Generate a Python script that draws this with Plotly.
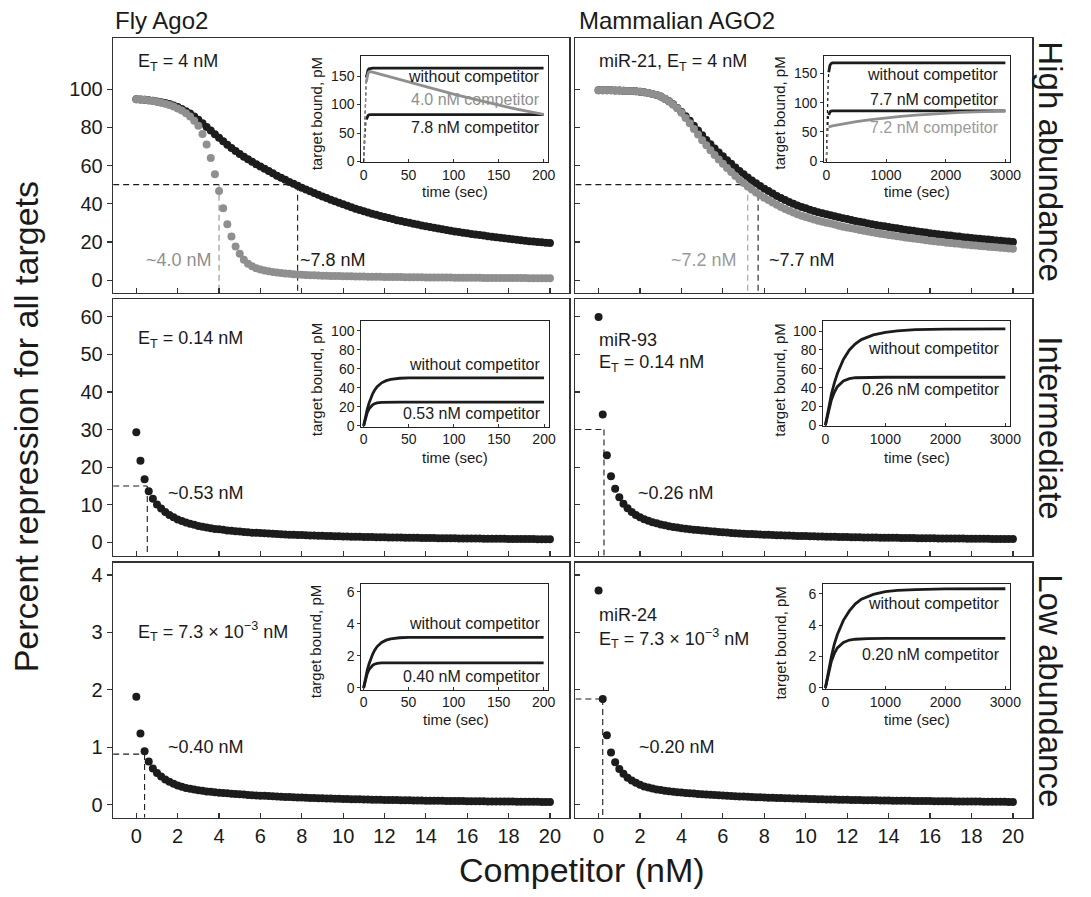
import plotly.graph_objects as go

W, H = 1091, 897
FONT = "Liberation Sans, Arial, Helvetica, sans-serif"
BLACK = "#1c1c1c"
GRAY = "#8f8f8f"
AXC = "#333333"

# ---------------- data: main panels (percent repression vs competitor) ----------------
competitor_nM = [
    0.0, 0.2, 0.4, 0.6, 0.8, 1.0, 1.2, 1.4, 1.6, 1.8,
    2.0, 2.2, 2.4, 2.6, 2.8, 3.0, 3.2, 3.4, 3.6, 3.8,
    4.0, 4.2, 4.4, 4.6, 4.8, 5.0, 5.2, 5.4, 5.6, 5.8,
    6.0, 6.2, 6.4, 6.6, 6.8, 7.0, 7.2, 7.4, 7.6, 7.8,
    8.0, 8.2, 8.4, 8.6, 8.8, 9.0, 9.2, 9.4, 9.6, 9.8,
    10.0, 10.2, 10.4, 10.6, 10.8, 11.0, 11.2, 11.4, 11.6, 11.8,
    12.0, 12.2, 12.4, 12.6, 12.8, 13.0, 13.2, 13.4, 13.6, 13.8,
    14.0, 14.2, 14.4, 14.6, 14.8, 15.0, 15.2, 15.4, 15.6, 15.8,
    16.0, 16.2, 16.4, 16.6, 16.8, 17.0, 17.2, 17.4, 17.6, 17.8,
    18.0, 18.2, 18.4, 18.6, 18.8, 19.0, 19.2, 19.4, 19.6, 19.8,
    20.0]

fly_high_black = [
    94.7, 94.6, 94.4, 94.2, 93.9, 93.6, 93.1, 92.7, 92.2, 91.4,
    90.6, 89.6, 88.5, 87.2, 85.7, 84.0, 82.1, 80.2, 78.3, 76.4,
    74.5, 72.7, 70.9, 69.2, 67.6, 66.0, 64.6, 63.3, 62.0, 60.7,
    59.5, 58.3, 57.1, 55.9, 54.7, 53.6, 52.5, 51.4, 50.4, 49.4,
    48.4, 47.5, 46.5, 45.6, 44.7, 43.8, 43.0, 42.1, 41.3, 40.5,
    39.7, 38.9, 38.2, 37.4, 36.7, 36.0, 35.4, 34.8, 34.2, 33.6,
    33.0, 32.5, 32.0, 31.4, 30.9, 30.4, 30.0, 29.5, 29.1, 28.6,
    28.2, 27.8, 27.4, 27.0, 26.6, 26.2, 25.9, 25.5, 25.2, 24.8,
    24.5, 24.2, 23.9, 23.6, 23.3, 23.0, 22.7, 22.4, 22.2, 21.9,
    21.6, 21.4, 21.1, 20.9, 20.6, 20.4, 20.2, 20.0, 19.8, 19.6,
    19.4]

fly_high_gray = [
    94.7, 94.6, 94.4, 94.1, 93.8, 93.4, 92.9, 92.4, 91.7, 90.9,
    89.9, 88.8, 87.4, 85.7, 83.5, 80.8, 76.5, 71.0, 64.0, 55.4,
    46.7, 37.6, 29.2, 22.8, 17.6, 13.8, 10.7, 8.6, 7.2, 6.2,
    5.5, 5.0, 4.6, 4.3, 4.0, 3.7, 3.5, 3.3, 3.1, 2.9,
    2.8, 2.7, 2.6, 2.5, 2.4, 2.3, 2.25, 2.2, 2.15, 2.1,
    2.05, 2.0, 1.96, 1.92, 1.88, 1.84, 1.8, 1.77, 1.74, 1.71,
    1.68, 1.65, 1.62, 1.59, 1.56, 1.53, 1.5, 1.48, 1.46, 1.44,
    1.42, 1.4, 1.38, 1.36, 1.34, 1.32, 1.3, 1.28, 1.26, 1.24,
    1.22, 1.2, 1.19, 1.18, 1.16, 1.15, 1.14, 1.12, 1.11, 1.1,
    1.08, 1.07, 1.06, 1.05, 1.04, 1.03, 1.02, 1.01, 1.0, 0.99,
    0.98]

mam_high_black = [
    99.4, 99.4, 99.4, 99.4, 99.3, 99.3, 99.2, 99.1, 99.0, 98.9,
    98.7, 98.4, 98.0, 97.5, 96.9, 96.1, 95.0, 93.7, 92.1, 90.2,
    88.1, 85.8, 83.4, 80.9, 78.4, 75.8, 73.4, 71.1, 68.9, 66.8,
    64.8, 62.8, 60.9, 59.0, 57.2, 55.5, 53.8, 52.2, 50.7, 49.3,
    47.9, 46.6, 45.3, 44.1, 43.0, 41.9, 40.9, 40.0, 39.1, 38.3,
    37.6, 36.9, 36.2, 35.6, 35.0, 34.5, 34.0, 33.5, 32.9, 32.4,
    32.0, 31.5, 31.0, 30.6, 30.2, 29.7, 29.3, 28.9, 28.5, 28.2,
    27.8, 27.4, 27.1, 26.8, 26.4, 26.1, 25.8, 25.5, 25.2, 24.9,
    24.6, 24.3, 24.0, 23.8, 23.5, 23.3, 23.0, 22.8, 22.5, 22.3,
    22.1, 21.8, 21.6, 21.4, 21.2, 21.0, 20.8, 20.6, 20.4, 20.2,
    20.0]

mam_high_gray = [
    99.4, 99.4, 99.4, 99.4, 99.3, 99.3, 99.2, 99.1, 99.0, 98.9,
    98.7, 98.4, 98.0, 97.5, 96.9, 96.1, 95.0, 93.6, 91.9, 90.0,
    87.6, 84.9, 82.1, 79.2, 76.3, 73.3, 70.6, 68.0, 65.5, 63.1,
    60.9, 58.7, 56.6, 54.5, 52.6, 50.8, 49.0, 47.4, 45.9, 44.5,
    43.1, 41.9, 40.6, 39.4, 38.3, 37.2, 36.3, 35.4, 34.5, 33.7,
    33.0, 32.4, 31.7, 31.1, 30.5, 30.0, 29.6, 29.1, 28.5, 28.0,
    27.6, 27.2, 26.7, 26.3, 25.9, 25.4, 25.1, 24.7, 24.3, 24.0,
    23.6, 23.3, 23.0, 22.7, 22.3, 22.0, 21.8, 21.5, 21.2, 20.9,
    20.6, 20.4, 20.1, 19.9, 19.6, 19.4, 19.2, 19.0, 18.7, 18.5,
    18.3, 18.1, 17.9, 17.7, 17.5, 17.3, 17.2, 17.0, 16.8, 16.6,
    16.4]

fly_mid = [
    29.3, 21.7, 16.8, 13.6, 11.6, 10.1, 9.0, 8.1, 7.3, 6.7,
    6.1, 5.7, 5.3, 5.0, 4.7, 4.4, 4.2, 4.0, 3.8, 3.6,
    3.5, 3.35, 3.2, 3.1, 3.0, 2.9, 2.8, 2.7, 2.6, 2.55,
    2.5, 2.42, 2.35, 2.3, 2.24, 2.18, 2.13, 2.08, 2.03, 1.99,
    1.95, 1.91, 1.87, 1.83, 1.79, 1.76, 1.72, 1.69, 1.66, 1.63,
    1.6, 1.57, 1.55, 1.52, 1.5, 1.47, 1.45, 1.43, 1.41, 1.39,
    1.37, 1.35, 1.33, 1.31, 1.29, 1.27, 1.26, 1.24, 1.22, 1.21,
    1.19, 1.18, 1.16, 1.15, 1.13, 1.12, 1.11, 1.09, 1.08, 1.07,
    1.06, 1.04, 1.03, 1.02, 1.01, 1.0, 0.99, 0.98, 0.97, 0.96,
    0.95, 0.94, 0.93, 0.92, 0.91, 0.9, 0.89, 0.88, 0.87, 0.87,
    0.86]

mam_mid = [
    59.9, 34.0, 23.2, 17.6, 14.3, 12.0, 10.3, 9.1, 8.1, 7.3,
    6.7, 6.2, 5.8, 5.4, 5.1, 4.8, 4.55, 4.3, 4.1, 3.95,
    3.8, 3.65, 3.5, 3.4, 3.3, 3.2, 3.1, 3.0, 2.9, 2.8,
    2.7, 2.62, 2.54, 2.47, 2.4, 2.34, 2.28, 2.22, 2.17, 2.12,
    2.07, 2.02, 1.98, 1.94, 1.9, 1.86, 1.82, 1.79, 1.75, 1.72,
    1.69, 1.66, 1.63, 1.6, 1.57, 1.55, 1.52, 1.5, 1.48, 1.45,
    1.43, 1.41, 1.39, 1.37, 1.35, 1.33, 1.31, 1.3, 1.28, 1.26,
    1.25, 1.23, 1.22, 1.2, 1.19, 1.17, 1.16, 1.15, 1.13, 1.12,
    1.11, 1.1, 1.08, 1.07, 1.06, 1.05, 1.04, 1.03, 1.02, 1.01,
    1.0, 0.99, 0.98, 0.97, 0.96, 0.95, 0.94, 0.93, 0.93, 0.92,
    0.91]

fly_low = [
    1.88, 1.24, 0.93, 0.75, 0.63, 0.55, 0.49, 0.44, 0.4, 0.365,
    0.335, 0.312, 0.292, 0.276, 0.262, 0.25, 0.24, 0.231, 0.223, 0.216,
    0.209, 0.203, 0.197, 0.191, 0.185, 0.18, 0.175, 0.17, 0.165, 0.161,
    0.157, 0.153, 0.149, 0.145, 0.141, 0.138, 0.135, 0.132, 0.129, 0.126,
    0.123, 0.12, 0.118, 0.115, 0.113, 0.11, 0.108, 0.106, 0.104, 0.102,
    0.1, 0.098, 0.096, 0.094, 0.092, 0.09, 0.089, 0.087, 0.086, 0.084,
    0.083, 0.081, 0.08, 0.079, 0.077, 0.076, 0.075, 0.074, 0.073, 0.071,
    0.07, 0.069, 0.068, 0.067, 0.066, 0.065, 0.064, 0.063, 0.063, 0.062,
    0.061, 0.06, 0.059, 0.058, 0.058, 0.057, 0.056, 0.055, 0.055, 0.054,
    0.053, 0.053, 0.052, 0.051, 0.051, 0.05, 0.049, 0.049, 0.048, 0.048,
    0.047]

mam_low = [
    3.73, 1.84, 1.21, 0.91, 0.74, 0.62, 0.54, 0.47, 0.42, 0.38,
    0.345, 0.317, 0.297, 0.28, 0.266, 0.254, 0.243, 0.234, 0.226, 0.218,
    0.211, 0.205, 0.199, 0.193, 0.187, 0.182, 0.177, 0.172, 0.167, 0.163,
    0.159, 0.155, 0.151, 0.147, 0.143, 0.14, 0.137, 0.134, 0.131, 0.128,
    0.125, 0.122, 0.119, 0.117, 0.114, 0.112, 0.11, 0.107, 0.105, 0.103,
    0.101, 0.099, 0.097, 0.095, 0.093, 0.091, 0.09, 0.088, 0.087, 0.085,
    0.084, 0.082, 0.081, 0.08, 0.078, 0.077, 0.076, 0.075, 0.074, 0.072,
    0.071, 0.07, 0.069, 0.068, 0.067, 0.066, 0.065, 0.064, 0.063, 0.062,
    0.062, 0.061, 0.06, 0.059, 0.058, 0.058, 0.057, 0.056, 0.055, 0.055,
    0.054, 0.053, 0.053, 0.052, 0.051, 0.051, 0.05, 0.05, 0.049, 0.048,
    0.048]

for s in (fly_high_black, fly_high_gray, mam_high_black, mam_high_gray,
          fly_mid, mam_mid, fly_low, mam_low):
    assert len(s) == len(competitor_nM)

# half-repression markers (competitor nM, repression level)
fly_high_half = {"black": 7.8, "gray": 4.0, "level": 50}
mam_high_half = {"black": 7.7, "gray": 7.2, "level": 50}
fly_mid_half = {"x": 0.53, "level": 15}
mam_mid_half = {"x": 0.26, "level": 30}
fly_low_half = {"x": 0.40, "level": 0.88}
mam_low_half = {"x": 0.20, "level": 1.84}

# ---------------- data: insets (target bound, pM vs time, sec) ----------------
fly_high_t_free = [0, 0.5, 1, 1.5, 2, 2.5, 3, 4, 5, 6, 8, 10, 200]
fly_high_free = [0, 30, 60, 90, 115, 135, 148, 157, 161, 163, 164, 164, 164]
fly_high_t_c40 = [0, 0.5, 1, 1.5, 2, 2.5, 3, 4, 5, 6, 8, 10,
                  20, 30, 40, 50, 60, 70, 80, 90, 100, 110, 120, 130, 140, 150, 160, 170, 180, 190, 200]
fly_high_c40 = [0, 30, 60, 88, 110, 128, 140, 150, 155, 157.5, 158, 157,
                153, 149, 144.5, 140, 135.5, 131, 127, 122.5, 118.5, 114.5, 110.5, 106.5, 102.5, 99, 95.5, 92, 89, 86, 83]
fly_high_t_c78 = [0, 0.5, 1, 1.5, 2, 2.5, 3, 4, 5, 6, 8, 200]
fly_high_c78 = [0, 20, 38, 52, 62, 69, 74, 78.5, 81, 82, 82.5, 82.5]

mam_high_t_free = [0, 10, 20, 30, 40, 50, 60, 80, 100, 150, 3000]
mam_high_free = [0, 60, 105, 135, 152, 160, 164, 167, 168, 168, 168]
mam_high_t_c77 = [0, 10, 20, 30, 40, 60, 80, 100, 3000]
mam_high_c77 = [0, 35, 60, 72, 79, 84, 85.5, 86, 86]
mam_high_t_c72 = [0, 10, 20, 30, 40, 60, 100, 200, 300, 500, 750, 1000, 1250, 1500, 1750, 2000, 2250, 2500, 2750, 3000]
mam_high_c72 = [0, 30, 48, 55, 57.5, 59, 60, 62, 64, 67.5, 71, 74, 76.5, 78.7, 80.5, 82, 83.2, 84.2, 84.9, 85.4]

fly_mid_t_free = [0, 2, 4, 6, 8, 10, 12, 15, 20, 25, 30, 35, 40, 50, 60, 80, 200]
fly_mid_free = [0, 9.5, 17.5, 24, 29.5, 33.8, 37.2, 41.2, 45.3, 47.6, 48.9, 49.7, 50.1, 50.4, 50.5, 50.5, 50.5]
fly_mid_t_comp = [0, 2, 4, 6, 8, 10, 12, 15, 20, 25, 30, 40, 200]
fly_mid_comp = [0, 8, 14, 18, 20.6, 22.3, 23.4, 24.3, 24.8, 25, 25.1, 25.1, 25.1]

mam_mid_t_free = [0, 50, 100, 150, 200, 300, 400, 500, 600, 800, 1000, 1200, 1500, 2000, 2500, 3000]
mam_mid_free = [0, 18, 33, 45, 55, 70, 80, 86.5, 91, 96, 98.8, 100.3, 101.5, 102.2, 102.4, 102.4]
mam_mid_t_comp = [0, 50, 100, 150, 200, 300, 400, 500, 700, 1000, 3000]
mam_mid_comp = [0, 15, 27, 35, 41, 47, 49.5, 50.5, 51, 51, 51]

fly_low_t_free = [0, 2, 4, 6, 8, 10, 12, 15, 20, 25, 30, 35, 40, 50, 60, 80, 200]
fly_low_free = [0, 0.6, 1.1, 1.5, 1.83, 2.1, 2.33, 2.58, 2.84, 2.98, 3.06, 3.11, 3.13, 3.15, 3.16, 3.16, 3.16]
fly_low_t_comp = [0, 2, 4, 6, 8, 10, 12, 15, 20, 25, 30, 40, 200]
fly_low_comp = [0, 0.5, 0.89, 1.14, 1.3, 1.41, 1.48, 1.53, 1.56, 1.57, 1.57, 1.57, 1.57]

mam_low_t_free = [0, 50, 100, 150, 200, 300, 400, 500, 600, 800, 1000, 1200, 1500, 2000, 2500, 3000]
mam_low_free = [0, 1.1, 2.0, 2.8, 3.4, 4.3, 4.9, 5.35, 5.65, 5.95, 6.12, 6.2, 6.26, 6.3, 6.31, 6.31]
mam_low_t_comp = [0, 50, 100, 150, 200, 300, 400, 500, 700, 1000, 3000]
mam_low_comp = [0, 0.95, 1.7, 2.2, 2.55, 2.9, 3.05, 3.1, 3.14, 3.15, 3.15]

# ---------------- layout geometry (pixels) ----------------
def xdom(l, r):
    return [l / W, r / W]


def ydom(t, b):
    return [1 - b / H, 1 - t / H]


def px(xp):
    return xp / W


def py(yp):
    return 1 - yp / H


COLS = [(112.5, 574.0), (580.3, 1042.6)]
ROWS = [(38.3, 295.0), (301.7, 560.0), (567.3, 824.3)]
XR = [-1.12, 20.93]
YR = [[-6.6, 126.8], [-3.5, 64.6], [-0.23, 4.21]]
YT = [[0, 20, 40, 60, 80, 100], [0, 10, 20, 30, 40, 50, 60], [0, 1, 2, 3, 4]]

INSETS = [  # (left, right, top, bottom) px, xrange, yrange, yticks, xticks
    ((363.6, 552.9, 56.7, 163.3), [-2.6, 205.3], [-1, 185], [0, 50, 100, 150], [0, 50, 100, 150, 200]),
    ((832.0, 1020.5, 56.7, 163.0), [-38, 3083], [-1.2, 179.4], [0, 50, 100, 150], [0, 1000, 2000, 3000]),
    ((363.6, 553.6, 323.3, 430.0), [-2.6, 205.5], [-0.7, 110.4], [0, 20, 40, 60, 80, 100], [0, 50, 100, 150, 200]),
    ((831.0, 1020.5, 323.3, 429.3), [-38, 3083], [-0.7, 111], [0, 20, 40, 60, 80, 100], [0, 1000, 2000, 3000]),
    ((363.6, 553.0, 588.3, 695.0), [-2.6, 205.3], [-0.1, 6.5], [0, 2, 4, 6], [0, 50, 100, 150, 200]),
    ((831.0, 1020.5, 588.3, 694.5), [-38, 3083], [-0.07, 6.63], [0, 2, 4, 6], [0, 1000, 2000, 3000]),
]

fig = go.Figure()
layout = dict(
    width=W, height=H, autosize=False,
    margin=dict(l=0, r=0, t=0, b=0),
    paper_bgcolor="white", plot_bgcolor="rgba(0,0,0,0)",
    showlegend=False,
    font=dict(family=FONT, color="#1a1a1a"),
)

# main axes 1..6
for idx in range(1, 7):
    c = (idx - 1) % 2
    r = (idx - 1) // 2
    sfx = "" if idx == 1 else str(idx)
    layout["xaxis" + sfx] = dict(
        domain=xdom(*COLS[c]), range=XR, anchor="y" + sfx,
        tickvals=list(range(0, 21, 2)), ticks="inside", ticklen=5, tickwidth=1.2, tickcolor=AXC,
        showticklabels=(r == 2), tickfont=dict(size=20, family=FONT, color="#1a1a1a"),
        showline=True, linecolor=AXC, linewidth=1.5, mirror=True,
        showgrid=False, zeroline=False, fixedrange=True)
    layout["yaxis" + sfx] = dict(
        domain=ydom(*ROWS[r]), range=YR[r], anchor="x" + sfx,
        tickvals=YT[r], ticks="outside" if c == 0 else "inside", ticklen=5, tickwidth=1.2, tickcolor=AXC,
        showticklabels=(c == 0), tickfont=dict(size=20, family=FONT, color="#1a1a1a"),
        showline=True, linecolor=AXC, linewidth=1.5, mirror=True,
        showgrid=False, zeroline=False, fixedrange=True)

# inset axes 7..12
for k, (box, xr, yr, yt, xt) in enumerate(INSETS):
    idx = 7 + k
    l, rr, t, b = box
    layout["xaxis%d" % idx] = dict(
        domain=xdom(l, rr), range=xr, anchor="y%d" % idx,
        tickvals=xt, ticks="inside", ticklen=3, tickwidth=1, tickcolor=AXC,
        tickfont=dict(size=14, family=FONT, color="#1a1a1a"),
        showline=True, linecolor="#222", linewidth=1, mirror=True,
        showgrid=False, zeroline=False, fixedrange=True)
    layout["yaxis%d" % idx] = dict(
        domain=ydom(t, b), range=yr, anchor="x%d" % idx,
        tickvals=yt, ticks="outside", ticklen=3, tickwidth=1, tickcolor=AXC,
        tickfont=dict(size=14, family=FONT, color="#1a1a1a"),
        showline=True, linecolor="#222", linewidth=1, mirror=True,
        showgrid=False, zeroline=False, fixedrange=True)


def dots(y, color, idx):
    sfx = "" if idx == 1 else str(idx)
    fig.add_trace(go.Scatter(x=competitor_nM, y=y, mode="markers",
                             marker=dict(size=8, color=color, line=dict(width=0)),
                             xaxis="x" + sfx, yaxis="y" + sfx, hoverinfo="skip"))


dots(fly_high_black, BLACK, 1)
dots(fly_high_gray, GRAY, 1)
dots(mam_high_black, BLACK, 2)
dots(mam_high_gray, GRAY, 2)
dots(fly_mid, BLACK, 3)
dots(mam_mid, BLACK, 4)
dots(fly_low, BLACK, 5)
dots(mam_low, BLACK, 6)


def curve(t, y, color, idx, t_cut=None):
    ax = dict(xaxis="x%d" % idx, yaxis="y%d" % idx, hoverinfo="skip")
    if t_cut is None:
        fig.add_trace(go.Scatter(x=t, y=y, mode="lines", line=dict(color=color, width=2.8), **ax))
        return
    i = max(k for k, v in enumerate(t) if v <= t_cut)
    fig.add_trace(go.Scatter(x=t[:i + 1], y=y[:i + 1], mode="lines",
                             line=dict(color=color, width=1.3, dash="dot"), **ax))
    fig.add_trace(go.Scatter(x=t[i:], y=y[i:], mode="lines",
                             line=dict(color=color, width=2.8), **ax))


curve(fly_high_t_free, fly_high_free, BLACK, 7, 3)
curve(fly_high_t_c78, fly_high_c78, BLACK, 7, 3)
curve(fly_high_t_c40, fly_high_c40, GRAY, 7, 3)
curve(mam_high_t_free, mam_high_free, BLACK, 8, 40)
curve(mam_high_t_c77, mam_high_c77, BLACK, 8, 40)
curve(mam_high_t_c72, mam_high_c72, GRAY, 8, 40)
curve(fly_mid_t_free, fly_mid_free, BLACK, 9)
curve(fly_mid_t_comp, fly_mid_comp, BLACK, 9)
curve(mam_mid_t_free, mam_mid_free, BLACK, 10)
curve(mam_mid_t_comp, mam_mid_comp, BLACK, 10)
curve(fly_low_t_free, fly_low_free, BLACK, 11)
curve(fly_low_t_comp, fly_low_comp, BLACK, 11)
curve(mam_low_t_free, mam_low_free, BLACK, 12)
curve(mam_low_t_comp, mam_low_comp, BLACK, 12)

# ---------------- dashed guide lines ----------------
shapes = []


def dline(idx, x0, y0, x1, y1, color=BLACK):
    sfx = "" if idx == 1 else str(idx)
    shapes.append(dict(type="line", xref="x" + sfx, yref="y" + sfx, x0=x0, y0=y0, x1=x1, y1=y1,
                       line=dict(color=color, width=1.1, dash="6px,4px"), layer="below"))


dline(1, XR[0], fly_high_half["level"], fly_high_half["black"], fly_high_half["level"])
dline(1, fly_high_half["black"], fly_high_half["level"], fly_high_half["black"], YR[0][0])
dline(1, fly_high_half["gray"], fly_high_half["level"], fly_high_half["gray"], YR[0][0], GRAY)
dline(2, XR[0], mam_high_half["level"], mam_high_half["black"], mam_high_half["level"])
dline(2, mam_high_half["black"], mam_high_half["level"], mam_high_half["black"], YR[0][0])
dline(2, mam_high_half["gray"], mam_high_half["level"], mam_high_half["gray"], YR[0][0], "#a0a0a0")
dline(3, XR[0], fly_mid_half["level"], fly_mid_half["x"], fly_mid_half["level"])
dline(3, fly_mid_half["x"], fly_mid_half["level"], fly_mid_half["x"], YR[1][0])
dline(4, XR[0], mam_mid_half["level"], mam_mid_half["x"], mam_mid_half["level"])
dline(4, mam_mid_half["x"], mam_mid_half["level"], mam_mid_half["x"], YR[1][0])
dline(5, XR[0], fly_low_half["level"], fly_low_half["x"], fly_low_half["level"])
dline(5, fly_low_half["x"], fly_low_half["level"], fly_low_half["x"], YR[2][0])
dline(6, XR[0], mam_low_half["level"], mam_low_half["x"], mam_low_half["level"])
dline(6, mam_low_half["x"], mam_low_half["level"], mam_low_half["x"], YR[2][0])
layout["shapes"] = shapes

# ---------------- text ----------------
ann = []


def atext(idx, x, y, text, anchor="left", size=18, color="#1a1a1a"):
    sfx = "" if idx == 1 else str(idx)
    ann.append(dict(xref="x" + sfx, yref="y" + sfx, x=x, y=y, text=text, showarrow=False,
                    xanchor=anchor, yanchor="middle", font=dict(size=size, color=color, family=FONT),
                    borderpad=0))


def ptext(xp, yp, text, size, anchor="center", angle=0, color="#1a1a1a"):
    ann.append(dict(xref="paper", yref="paper", x=px(xp), y=py(yp), text=text, showarrow=False,
                    xanchor=anchor, yanchor="middle", textangle=angle,
                    font=dict(size=size, color=color, family=FONT)))


ET = "E<sub>T</sub>"
atext(1, 0.05, 113.8, ET + " = 4 nM")
atext(1, 3.72, 10.7, "~4.0 nM", "right", color=GRAY)
atext(1, 7.88, 10.7, "~7.8 nM")
atext(2, -0.05, 113.8, "miR-21, " + ET + " = 4 nM")
atext(2, 6.72, 10.7, "~7.2 nM", "right", color="#9a9a9a")
atext(2, 8.2, 10.7, "~7.7 nM")
atext(3, 0.05, 53.8, ET + " = 0.14 nM")
atext(3, 1.5, 13.1, "~0.53 nM")
atext(4, -0.05, 53.8, "miR-93")
atext(4, -0.05, 47.6, ET + " = 0.14 nM")
atext(4, 1.85, 13.1, "~0.26 nM")
atext(5, 0.05, 3.01, ET + " = 7.3 × 10<sup>−3</sup> nM")
atext(5, 1.5, 1.0, "~0.40 nM")
atext(6, -0.05, 3.31, "miR-24")
atext(6, -0.05, 2.90, ET + " = 7.3 × 10<sup>−3</sup> nM")
atext(6, 1.88, 1.0, "~0.20 nM")

# inset legends
atext(7, 197, 149, "without competitor", "right", 16)
atext(7, 197, 109, "4.0 nM competitor", "right", 16, GRAY)
atext(7, 197, 60, "7.8 nM competitor", "right", 16)
atext(8, 2915, 148, "without competitor", "right", 16)
atext(8, 2915, 106, "7.7 nM competitor", "right", 16)
atext(8, 2915, 58, "7.2 nM competitor", "right", 16, "#9a9a9a")
atext(9, 198, 65, "without competitor", "right", 16)
atext(9, 198, 13, "0.53 nM competitor", "right", 16)
atext(10, 2930, 82, "without competitor", "right", 16)
atext(10, 2930, 38.4, "0.26 nM competitor", "right", 16)
atext(11, 198, 4.02, "without competitor", "right", 16)
atext(11, 198, 0.72, "0.40 nM competitor", "right", 16)
atext(12, 2930, 5.37, "without competitor", "right", 16)
atext(12, 2930, 2.1, "0.20 nM competitor", "right", 16)

# inset axis titles
for xl, yl, xt, yt in [(318, 115, 458, 193), (786, 114, 926, 193),
                       (318, 383, 458, 461), (786, 383, 926, 461),
                       (318, 647, 459, 725), (788, 648, 926, 725)]:
    ptext(xl, yl, "target bound, pM", 15, angle=-90)
    ptext(xt, yt, "time (sec)", 15)

# column titles
ptext(112, 21, "Fly Ago2", 24, anchor="left")
ptext(582, 21, "Mammalian AGO2", 24, anchor="left")

# row labels
ptext(1061, 163, "High abundance", 33, angle=90)
ptext(1061, 431, "Intermediate", 33, angle=90)
ptext(1061, 696, "Low abundance", 33, angle=90)

# axis titles
ptext(24, 430, "Percent repression for all targets", 34, angle=-90)
ptext(587, 877, "Competitor (nM)", 34)

layout["annotations"] = ann
fig.update_layout(**layout)

fig.write_html("out.html", config={"displayModeBar": False, "staticPlot": True},
               post_script="document.body.style.margin='0';document.body.style.overflow='hidden';")
